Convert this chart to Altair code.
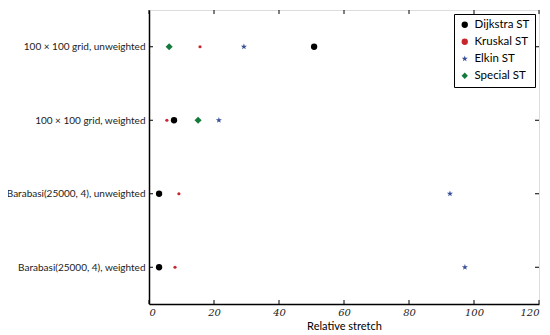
import altair as alt
import pandas as pd

categories = ["100 × 100 grid, unweighted", "100 × 100 grid, weighted",
              "Barabasi(25000, 4), unweighted", "Barabasi(25000, 4), weighted"]
series = ["Dijkstra ST", "Kruskal ST", "Elkin ST", "Special ST"]
dijkstra = [50.8, 7.7, 3.1, 3.1]
kruskal = [15.7, 5.5, 9.2, 8.0]
elkin = [29.2, 21.5, 92.6, 97.2]
special = [6.2, 15.1, None, None]
x_ticks = [0, 20, 40, 60, 80, 100, 120]

colors = ["#000000", "#c8262e", "#3a4f9a", "#147a3c"]
star = "M0,-1L0.235,-0.324L0.951,-0.309L0.38,0.124L0.588,0.809L0,0.4L-0.588,0.809L-0.38,0.124L-0.951,-0.309L-0.235,-0.324Z"
shapes = ["circle", "circle", star, "diamond"]
sizes = [40, 10, 40, 50]

W, H = 390, 294
xs = alt.Scale(domain=[0, 120], nice=False, zero=False)
ys = alt.Scale(type="point", domain=categories, padding=0.5)

leg = alt.Legend(orient="top-right", strokeColor="black", fillColor="white", padding=5,
                 offset=4, labelFont="Lato", labelFontSize=11.5, rowPadding=4,
                 symbolSize=40, symbolStrokeWidth=0, symbolOpacity=1)

layers = []
for i, (s, vals) in enumerate(zip(series, [dijkstra, kruskal, elkin, special])):
    d = pd.DataFrame([{"category": c, "series": s, "value": v}
                      for c, v in zip(categories, vals) if v is not None])
    layers.append(alt.Chart(d).mark_point(filled=True, opacity=1, strokeWidth=0, size=sizes[i]).encode(
        x=alt.X("value:Q", scale=xs, title="Relative stretch",
                axis=alt.Axis(values=x_ticks, grid=False, ticks=False, domain=True,
                              domainColor="black", domainWidth=1.5,
                              labelFont="DejaVu Serif", labelFontStyle="italic",
                              labelFontSize=10, labelColor="#222", titleFont="Lato",
                              titleFontSize=11, titleFontWeight="normal", titlePadding=3,
                              labelPadding=3)),
        y=alt.Y("category:N", scale=ys, title=None, sort=categories,
                axis=alt.Axis(grid=False, ticks=False, domain=True,
                              domainColor="black", domainWidth=1.5, labelFont="Lato",
                              labelFontSize=10, labelColor="#222", labelPadding=4)),
        color=alt.Color("series:N", scale=alt.Scale(domain=series, range=colors), title=None,
                        legend=leg),
        shape=alt.Shape("series:N", scale=alt.Scale(domain=series, range=shapes), title=None,
                        legend=leg),
    ))

xt = pd.DataFrame({"t": x_ticks})
bottom_ticks = alt.Chart(xt).mark_rule(color="black", strokeWidth=1).encode(
    x=alt.X("t:Q", scale=xs), y=alt.value(H), y2=alt.value(H - 4))
top_ticks = alt.Chart(xt).mark_rule(color="black", strokeWidth=1).encode(
    x=alt.X("t:Q", scale=xs), y=alt.value(0), y2=alt.value(4))
yt = pd.DataFrame({"c": categories})
left_ticks = alt.Chart(yt).mark_rule(color="black", strokeWidth=1).encode(
    y=alt.Y("c:N", scale=ys, sort=categories), x=alt.value(0), x2=alt.value(4))
right_ticks = alt.Chart(yt).mark_rule(color="black", strokeWidth=1).encode(
    y=alt.Y("c:N", scale=ys, sort=categories), x=alt.value(W), x2=alt.value(W - 4))

chart = alt.layer(*layers, bottom_ticks, top_ticks, left_ticks, right_ticks).properties(
    width=W, height=H,
    autosize=alt.AutoSizeParams(type="none"),
    padding={"left": 141, "top": 2, "right": 2, "bottom": 28},
).configure_view(stroke="black", strokeWidth=1.5).configure(background="white")

chart.save("out.html", embed_options={"renderer": "svg", "actions": False})
